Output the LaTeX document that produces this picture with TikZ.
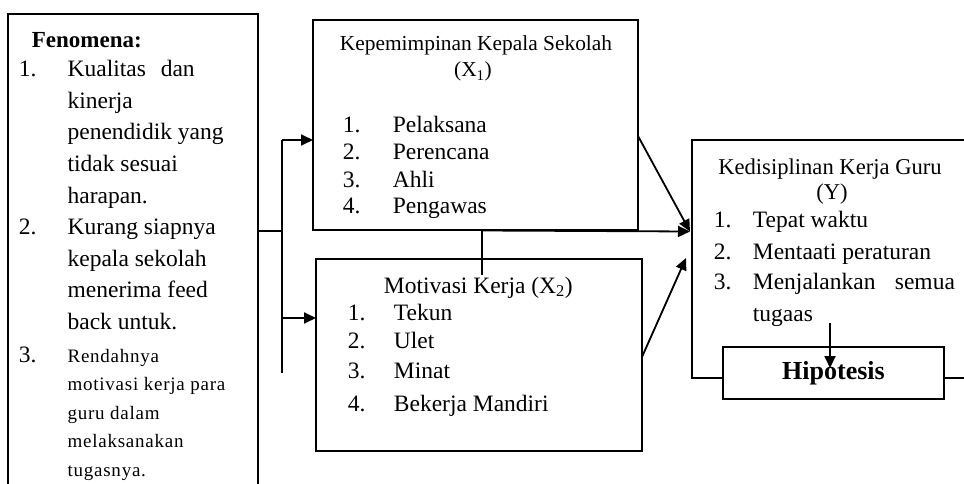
\documentclass[tikz,border=0pt]{standalone}
\usepackage{fontspec}
\setmainfont{Liberation Serif}
\newfontfamily\spacedfont[LetterSpace=4]{Liberation Serif}
\usetikzlibrary{arrows.meta}
\begin{document}
\begin{tikzpicture}[x=1pt,y=-1pt,line width=1.8pt,
  box/.style={draw,line width=1.8pt,inner sep=0pt,outer sep=0pt},
  bl/.style={anchor=base west,inner sep=0pt,font=\fontsize{23.5}{28}\selectfont},
  sm/.style={anchor=base west,inner sep=0pt,font=\fontsize{19}{22}\spacedfont},
  ttl/.style={anchor=base,inner sep=0pt,font=\fontsize{21.4}{26}\selectfont},
  arr/.style={-{Triangle[length=12pt,width=11pt]},line width=1.8pt}]
\useasboundingbox (0,0) rectangle (964,484);
% boxes
\node[box,minimum width=250pt,minimum height=486pt] (lb) at (133,257) {};
\node[box,minimum width=325pt,minimum height=210pt] (x1) at (475.5,125) {};
\node[box,minimum width=326pt,minimum height=192pt] (x2) at (479,355) {};
\node[box,minimum width=298pt,minimum height=238pt] (yb) at (841,259) {};
% left box text
\node[anchor=base west,inner sep=0pt,font=\fontsize{23}{28}\bfseries] (fen) at (31,48) {Fenomena:};
\node[bl] (n1) at (18,77) {1.};
\node[bl] (a1) at (66.7,77) {Kualitas\hspace{9pt} dan};
\node[bl] (a2) at (66.7,108.5) {kinerja};
\node[bl] (a3) at (66.7,140) {penendidik yang};
\node[bl] (a4) at (66.7,171.5) {tidak sesuai};
\node[bl] (a5) at (66.7,203) {harapan.};
\node[bl] (n2) at (18,234.5) {2.};
\node[bl] (b1) at (66.7,234.5) {Kurang siapnya};
\node[bl] (b2) at (66.7,266) {kepala sekolah};
\node[bl] (b3) at (66.7,297.5) {menerima feed};
\node[bl] (b4) at (66.7,329) {back untuk.};
\node[bl] (n3) at (18,362) {3.};
\node[sm] (c1) at (66.7,362) {Rendahnya};
\node[sm] (c2) at (66.7,390.5) {motivasi kerja para};
\node[sm] (c3) at (66.7,419) {guru dalam};
\node[sm] (c4) at (66.7,447.5) {melaksanakan};
\node[sm] (c5) at (66.7,476) {tugasnya.};
% X1 text
\node[ttl] (x1t) at (476,51) {Kepemimpinan Kepala Sekolah};
\node[ttl] (x1s) at (473,77) {(X\textsubscript{1})};
\node[bl] (p1) at (342,133) {1.};
\node[bl] (q1) at (392,133) {Pelaksana};
\node[bl] (p2) at (342,160) {2.};
\node[bl] (q2) at (392,160) {Perencana};
\node[bl] (p3) at (342,187) {3.};
\node[bl] (q3) at (392,187) {Ahli};
\node[bl] (p4) at (342,213) {4.};
\node[bl] (q4) at (392,213) {Pengawas};
% X2 text
\node[bl] (x2t) at (383,293) {Motivasi Kerja (X\textsubscript{2})};
\node[bl] (r1) at (347,320) {1.};
\node[bl] (s1) at (393,320) {Tekun};
\node[bl] (r2) at (347,348) {2.};
\node[bl] (s2) at (393,348) {Ulet};
\node[bl] (r3) at (347,378) {3.};
\node[bl] (s3) at (393,378) {Minat};
\node[bl] (r4) at (347,411) {4.};
\node[bl] (s4) at (393,411) {Bekerja Mandiri};
% Y text
\node[anchor=base,inner sep=0pt,font=\fontsize{22.6}{27}\selectfont] (yt) at (830,175) {Kedisiplinan Kerja Guru};
\node[anchor=base,inner sep=0pt,font=\fontsize{22.6}{27}\selectfont] (ys) at (832,200) {(Y)};
\node[bl] (u1) at (713,227) {1.};
\node[bl] (v1) at (752,227) {Tepat waktu};
\node[bl] (u2) at (713,259) {2.};
\node[bl] (v2) at (752,259) {Mentaati peraturan};
\node[bl] (u3) at (713,289) {3.};
\node[bl] (v3) at (752,289) {Menjalankan};
\node[bl] (v3b) at (894,289) {semua};
\node[bl] (v4) at (752,321) {tugaas};
% Hipotesis
\node[box,fill=white,minimum width=221pt,minimum height=52pt,font=\fontsize{26}{30}\bfseries] (hip) at (833.5,373) {Hipotesis};
% connectors
\coordinate (jn) at (282,231);
\coordinate (vt) at (282,140);
\coordinate (vb) at (282,373);
\coordinate (ea) at (282,318);
\draw (lb.east |- jn) -- (jn);
\draw (vt) -- (vb);
\draw[arr] (vt) -- (x1.west |- vt);
\draw[arr] (ea) -- (x2.west |- ea);
\coordinate (sp) at (482,230.5);
\coordinate (sd) at (482,275);
\coordinate (st) at (690,231.5);
\coordinate (x1o) at (638,136);
\coordinate (x2o) at (642,357);
\coordinate (x2t) at (686,258);
\draw (sp) -- (sd);
\draw[arr] (sp) -- (st);
\draw[arr] (x1o) -- (st);
\draw[arr] (x2o) -- (x2t);
\coordinate (ha) at (830,323);
\coordinate (hb) at (830,368);
\draw[arr] (ha) -- (hb);
\end{tikzpicture}
\end{document}
